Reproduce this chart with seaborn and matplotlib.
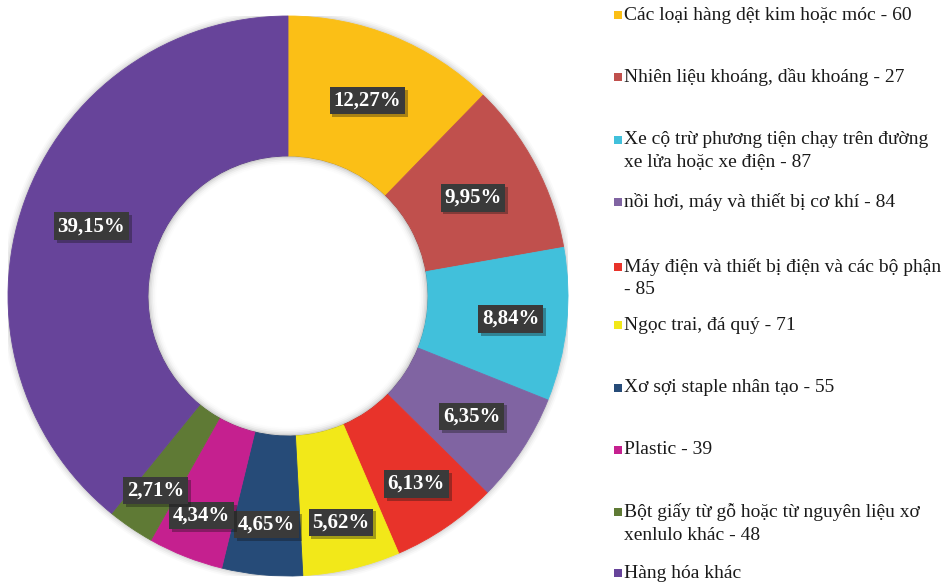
import matplotlib
matplotlib.use("Agg")
import matplotlib.pyplot as plt
import matplotlib.patheffects as pe
from matplotlib.patches import Rectangle, Wedge
import numpy as np
import seaborn as sns

# ---- data ----
categories = [
    "Các loại hàng dệt kim hoặc móc - 60",
    "Nhiên liệu khoáng, dầu khoáng - 27",
    "Xe cộ trừ phương tiện chạy trên đường\nxe lửa hoặc xe điện - 87",
    "nồi hơi, máy và thiết bị cơ khí - 84",
    "Máy điện và thiết bị điện và các bộ phận\n- 85",
    "Ngọc trai, đá quý - 71",
    "Xơ sợi staple nhân tạo - 55",
    "Plastic - 39",
    "Bột giấy từ gỗ hoặc từ nguyên liệu xơ\nxenlulo khác - 48",
    "Hàng hóa khác",
]
shares = [12.27, 9.95, 8.84, 6.35, 6.13, 5.62, 4.65, 4.34, 2.71, 39.15]
share_labels = ["12,27%", "9,95%", "8,84%", "6,35%", "6,13%",
                "5,62%", "4,65%", "4,34%", "2,71%", "39,15%"]

# ---- style ----
colors = ["#FBBF16", "#C0504D", "#41C0DB", "#8064A2", "#E8332A",
          "#F2E819", "#264B78", "#C5208F", "#5F7A35", "#67449A"]
label_r = [0.753, 0.748, 0.80, 0.785, 0.813, 0.83, 0.82, 0.843, 0.84, 0.745]

sns.set_theme(style="white")
palette = sns.color_palette(colors)
plt.rcParams["font.family"] = ["Liberation Serif", "DejaVu Serif"]

W, H = 949, 585
fig = plt.figure(figsize=(W / 100, H / 100), dpi=100)
fig.patch.set_facecolor("white")

cx, cy, R = 288, 296, 280
ax = fig.add_axes([(cx - R) / W, (H - cy - R) / H, 2 * R / W, 2 * R / H])

# soft outer shadow (rings)
for i, a in enumerate([0.05, 0.04, 0.03, 0.02]):
    ax.add_patch(Wedge((0, 0), 1.0 + 0.006 * (i + 1), 0, 360,
                       width=0.006 * (i + 1) + 0.01, color="#000000",
                       alpha=a, lw=0, zorder=0))

wedges, _ = ax.pie(shares, colors=palette, startangle=90, counterclock=False,
                   radius=1.0, wedgeprops=dict(width=0.5, linewidth=0.6))
for w, c in zip(wedges, palette):
    w.set_edgecolor(c)

# soft inner shadow in the hole
for i, a in enumerate([0.07, 0.05, 0.035, 0.02, 0.01]):
    ax.add_patch(Wedge((0, 0), 0.5, 0, 360, width=0.006 * (i + 1),
                       color="#000000", alpha=a, lw=0, zorder=3))

ax.set_xlim(-1, 1)
ax.set_ylim(-1, 1)
ax.set_aspect("equal")
ax.axis("off")

# percentage labels
total = sum(shares)
cum = 0.0
for v, lab, r in zip(shares, share_labels, label_r):
    mid = 90 - (cum + v / 2) / total * 360
    cum += v
    x = r * np.cos(np.radians(mid))
    y = r * np.sin(np.radians(mid))
    t = ax.text(x, y, lab, ha="center", va="center", color="white",
                fontsize=15, fontweight="bold", zorder=5,
                bbox=dict(boxstyle="square,pad=0.18", fc="#3A3A3A", ec="none"))
    t.get_bbox_patch().set_path_effects(
        [pe.SimplePatchShadow(offset=(2, -2), alpha=0.35), pe.Normal()])

# legend (manual, Excel style)
leg_y = [15, 77, 140, 202, 267, 325, 388, 450, 512, 573]
line_h = 23
for cat, c, y0 in zip(categories, palette, leg_y):
    fig.patches.append(Rectangle((614 / W, (H - y0 - 4) / H), 8 / W, 8 / H,
                                 transform=fig.transFigure, fc=c, ec="none"))
    for i, line in enumerate(cat.split("\n")):
        fig.text(624 / W, (H - (y0 + i * line_h)) / H, line, ha="left",
                 va="center", fontsize=14, color="#1a1a1a")

fig.savefig("out.png", dpi=100, facecolor="white")
